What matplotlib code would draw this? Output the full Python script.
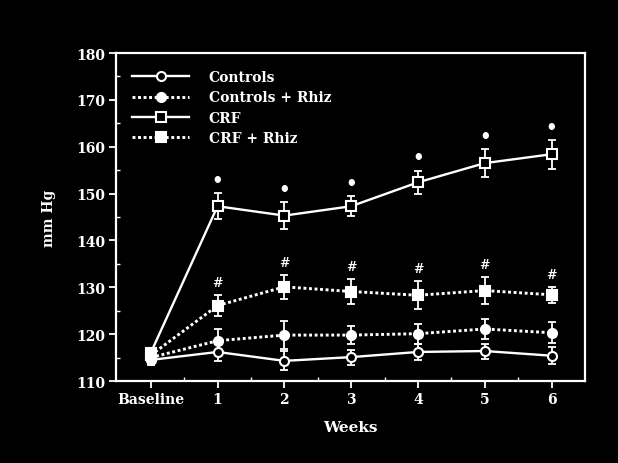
import matplotlib
matplotlib.use("Agg")
import matplotlib.pyplot as plt
import numpy as np

# Blood pressure (mm Hg) over time, mean ± SEM
x_labels = ["Baseline", "1", "2", "3", "4", "5", "6"]
weeks = [0, 1, 2, 3, 4, 5, 6]

controls = [114.5, 116.2, 114.3, 115.1, 116.2, 116.4, 115.4]
controls_err = [1.0, 1.9, 2.0, 1.6, 1.8, 1.6, 1.8]

controls_rhiz = [115.0, 118.6, 119.8, 119.8, 120.1, 121.1, 120.3]
controls_rhiz_err = [1.0, 2.5, 3.0, 2.0, 2.1, 2.1, 2.2]

crf = [116.0, 147.3, 145.3, 147.3, 152.4, 156.5, 158.4]
crf_err = [1.0, 2.8, 2.8, 2.1, 2.5, 3.0, 3.1]

crf_rhiz = [115.5, 126.1, 130.1, 129.1, 128.3, 129.3, 128.4]
crf_rhiz_err = [1.0, 2.3, 2.5, 2.7, 3.0, 2.8, 1.7]

# weeks carrying significance marks
star_weeks = [1, 2, 3, 4, 5, 6]      # CRF vs controls
hash_weeks = [1, 2, 3, 4, 5, 6]      # CRF + Rhiz vs CRF

FG = "white"
BG = "black"
plt.rcParams["font.family"] = ["DejaVu Serif"]
plt.rcParams["font.weight"] = "bold"

fig = plt.figure(figsize=(6.18, 4.64), dpi=100, facecolor=BG)
ax = fig.add_axes([0.1877, 0.1767, 0.7589, 0.7069], facecolor=BG)

dotted = (0, (1.0, 0.9))
series = [
    ("Controls", controls, controls_err, "-", "o", BG, 1.7),
    ("Controls + Rhiz", controls_rhiz, controls_rhiz_err, dotted, "o", FG, 2.1),
    ("CRF", crf, crf_err, "-", "s", BG, 1.7),
    ("CRF + Rhiz", crf_rhiz, crf_rhiz_err, dotted, "s", FG, 2.1),
]

handles = []
for name, vals, err, ls, mk, mfc, lw in series:
    ax.errorbar(weeks, vals, yerr=err, fmt="none", ecolor=FG, elinewidth=1.3,
                capsize=3, capthick=1.3, zorder=3)
    h, = ax.plot(weeks, vals, linestyle=ls, color=FG, linewidth=lw,
                 marker=mk, markersize=6.5, markerfacecolor=mfc,
                 markeredgecolor=FG, markeredgewidth=1.5, label=name, zorder=4)
    handles.append(h)

for w in star_weeks:
    ax.annotate("•", (w, crf[w] + crf_err[w]), xytext=(0, 9.5),
                textcoords="offset points", ha="center", va="center",
                color=FG, fontsize=13)
for w in hash_weeks:
    ax.annotate("#", (w, crf_rhiz[w] + crf_rhiz_err[w]), xytext=(0, 9),
                textcoords="offset points", ha="center", va="center",
                color=FG, fontsize=9, fontstyle="italic", fontweight="bold")

ax.set_xlim(-0.52, 6.5)
ax.set_ylim(110, 180)
ax.set_xticks(weeks)
ax.set_xticklabels(x_labels)
ax.set_xticks(np.arange(0.5, 6.5, 1.0), minor=True)
ax.set_yticks(np.arange(110, 181, 10))
ax.set_yticks(np.arange(115, 180, 10), minor=True)

ax.tick_params(axis="both", which="major", direction="out", length=5,
               width=1.3, colors=FG, labelsize=10, pad=3)
ax.tick_params(axis="both", which="minor", direction="in", length=3,
               width=1.0, colors=FG)
for sp in ax.spines.values():
    sp.set_color(FG)
    sp.set_linewidth(1.6)

ax.set_xlabel("Weeks", color=FG, fontsize=11, fontweight="bold", labelpad=10)
ax.set_ylabel("mm Hg", color=FG, fontsize=10, fontweight="bold", labelpad=14)

leg = ax.legend(handles=handles, loc="upper left", frameon=False,
                handlelength=4.1, handletextpad=1.4, labelspacing=0.45,
                fontsize=10, borderaxespad=0.6, bbox_to_anchor=(0.005, 0.99))
for t in leg.get_texts():
    t.set_color(FG)

fig.savefig("out.png", dpi=100, facecolor=BG)
